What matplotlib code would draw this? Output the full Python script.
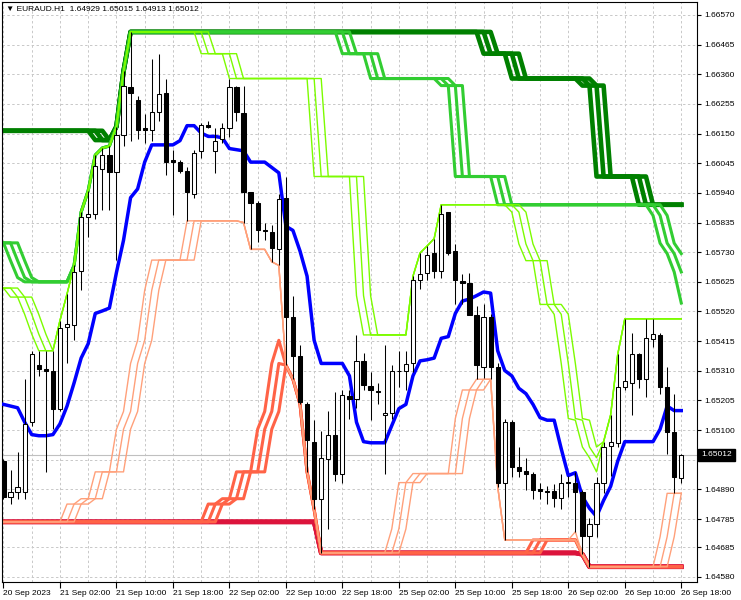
import numpy as np
import matplotlib.pyplot as plt
from matplotlib.ticker import MultipleLocator

plt.rcParams['font.family'] = ['Liberation Sans', 'DejaVu Sans']

symbol = "EURAUD.H1"

# H1 candles, first bar = 20 Sep 2023 18:00
opens = [1.64990, 1.64864, 1.64882, 1.64882, 1.65128, 1.65330, 1.65315, 1.65311, 1.65173, 1.65466,
         1.65471, 1.65664, 1.65853, 1.65866, 1.66024, 1.66074, 1.66014, 1.66144, 1.66314, 1.66270,
         1.66169, 1.66162, 1.66225, 1.66295, 1.66055, 1.66051, 1.66017, 1.65935, 1.66087, 1.66181,
         1.66089, 1.66131, 1.66169, 1.66314, 1.66223, 1.65942, 1.65904, 1.65809, 1.65803, 1.65740,
         1.65923, 1.65500, 1.65362, 1.65194, 1.65059, 1.64857, 1.64996, 1.65084, 1.64946, 1.65219,
         1.65210, 1.65343, 1.65257, 1.65238, 1.65154, 1.65160, 1.65311, 1.65311, 1.65336, 1.65633,
         1.65658, 1.65727, 1.65664, 1.65872, 1.65734, 1.65629, 1.65620, 1.65507, 1.65324, 1.65500,
         1.65324, 1.64914, 1.65128, 1.64971, 1.64954, 1.64946, 1.64891, 1.64886, 1.64886, 1.64861,
         1.64916, 1.64914, 1.64882, 1.64725, 1.64769, 1.64914, 1.65043, 1.65053, 1.65251, 1.65267,
         1.65368, 1.65280, 1.65421, 1.65437, 1.65254, 1.65093, 1.64929]
highs = [1.64996, 1.64958, 1.65021, 1.65280, 1.65381, 1.65381, 1.65381, 1.65381, 1.65488, 1.65582,
         1.65683, 1.65872, 1.65948, 1.66074, 1.66099, 1.66106, 1.66175, 1.66370, 1.66510, 1.66282,
         1.66219, 1.66415, 1.66433, 1.66345, 1.66093, 1.66055, 1.66030, 1.66093, 1.66188, 1.66194,
         1.66169, 1.66188, 1.66345, 1.66320, 1.66320, 1.65942, 1.65910, 1.65835, 1.65828, 1.65935,
         1.65998, 1.65576, 1.65400, 1.65198, 1.65135, 1.65097, 1.65166, 1.65236, 1.65242, 1.65242,
         1.65437, 1.65374, 1.65305, 1.65267, 1.65400, 1.65330, 1.65381, 1.65381, 1.65645, 1.65727,
         1.65752, 1.65778, 1.65898, 1.65872, 1.65759, 1.65652, 1.65658, 1.65538, 1.65545, 1.65510,
         1.65336, 1.65141, 1.65135, 1.65040, 1.65002, 1.64952, 1.64914, 1.64901, 1.64908, 1.64946,
         1.64938, 1.64952, 1.64889, 1.64788, 1.64933, 1.65059, 1.65154, 1.65368, 1.65494, 1.65444,
         1.65374, 1.65494, 1.65494, 1.65444, 1.65324, 1.65229, 1.65015]
lows = [1.64857, 1.64838, 1.64857, 1.64857, 1.65116, 1.65292, 1.64952, 1.65103, 1.65166, 1.65336,
        1.65418, 1.65595, 1.65784, 1.65847, 1.65879, 1.65879, 1.65702, 1.66106, 1.66125, 1.66131,
        1.66118, 1.66125, 1.66194, 1.66005, 1.65860, 1.66011, 1.65841, 1.65923, 1.66062, 1.66169,
        1.66011, 1.66118, 1.66137, 1.66194, 1.65835, 1.65740, 1.65765, 1.65772, 1.65696, 1.65683,
        1.65330, 1.65280, 1.65192, 1.64952, 1.64819, 1.64665, 1.64750, 1.64920, 1.64914, 1.65141,
        1.65179, 1.65242, 1.65135, 1.65192, 1.64946, 1.65141, 1.65254, 1.65242, 1.65305, 1.65601,
        1.65633, 1.65639, 1.65639, 1.65721, 1.65545, 1.65545, 1.65507, 1.65280, 1.65286, 1.65280,
        1.64900, 1.64711, 1.64933, 1.64933, 1.64889, 1.64857, 1.64857, 1.64838, 1.64826, 1.64819,
        1.64864, 1.64740, 1.64660, 1.64616, 1.64722, 1.64876, 1.64938, 1.65040, 1.65242, 1.65154,
        1.65248, 1.65217, 1.65393, 1.65229, 1.65015, 1.64876, 1.64913]
closes = [1.64864, 1.64882, 1.64898, 1.65122, 1.65368, 1.65318, 1.65310, 1.65173, 1.65462, 1.65475,
          1.65661, 1.65853, 1.65866, 1.66036, 1.66074, 1.66014, 1.66144, 1.66320, 1.66295, 1.66162,
          1.66162, 1.66228, 1.66289, 1.66049, 1.66051, 1.66017, 1.65942, 1.66080, 1.66181, 1.66175,
          1.66125, 1.66169, 1.66314, 1.66225, 1.65942, 1.65904, 1.65809, 1.65806, 1.65746, 1.65917,
          1.65500, 1.65362, 1.65198, 1.65065, 1.64857, 1.65002, 1.65084, 1.64946, 1.65223, 1.65210,
          1.65343, 1.65261, 1.65242, 1.65236, 1.65160, 1.65311, 1.65308, 1.65333, 1.65633, 1.65652,
          1.65721, 1.65664, 1.65866, 1.65727, 1.65633, 1.65620, 1.65507, 1.65330, 1.65500, 1.65324,
          1.64914, 1.65128, 1.64971, 1.64954, 1.64946, 1.64889, 1.64886, 1.64882, 1.64861, 1.64914,
          1.64911, 1.64882, 1.64725, 1.64769, 1.64914, 1.65040, 1.65059, 1.65254, 1.65274, 1.65368,
          1.65280, 1.65425, 1.65441, 1.65254, 1.65093, 1.64933, 1.65012]

# blue average line
blue_line = [1.65191, 1.65185, 1.65179, 1.65128, 1.65084, 1.65080, 1.65080, 1.65084, 1.65122, 1.65185,
             1.65267, 1.65355, 1.65406, 1.65513, 1.65522, 1.65532, 1.65658, 1.65772, 1.65923, 1.65954,
             1.66049, 1.66110, 1.66110, 1.66110, 1.66110, 1.66125, 1.66178, 1.66178, 1.66152, 1.66140,
             1.66140, 1.66135, 1.66097, 1.66093, 1.66089, 1.66049, 1.66049, 1.66049, 1.66030, 1.66011,
             1.65822, 1.65807, 1.65734, 1.65645, 1.65418, 1.65336, 1.65336, 1.65336, 1.65336, 1.65292,
             1.65128, 1.65059, 1.65055, 1.65055, 1.65055, 1.65116, 1.65176, 1.65191, 1.65292, 1.65345,
             1.65349, 1.65355, 1.65425, 1.65431, 1.65513, 1.65557, 1.65564, 1.65576, 1.65589, 1.65585,
             1.65381, 1.65311, 1.65292, 1.65248, 1.65229, 1.65191, 1.65144, 1.65135, 1.65135, 1.65034,
             1.64939, 1.64949, 1.64864, 1.64823, 1.64794, 1.64851, 1.64901, 1.64990, 1.65059, 1.65059,
             1.65059, 1.65059, 1.65059, 1.65103, 1.65185, 1.65169, 1.65169]

# channel levels as (first bar, level) steps; bands start 3 bars before the first candle
upper_slow = [(-3, 1.66160), (13, 1.66127), (16, 1.66175), (17, 1.66370), (18, 1.66510), (68, 1.66433),
              (72, 1.66345), (82, 1.66320), (84, 1.65998), (90, 1.65898)]
upper_mid = [(-3, 1.65763), (1, 1.65700), (2, 1.65640), (3, 1.65625), (10, 1.65683), (11, 1.65872),
             (12, 1.65948), (13, 1.66074), (14, 1.66099), (15, 1.66106), (16, 1.66175), (17, 1.66370),
             (18, 1.66510), (48, 1.66433), (52, 1.66345), (62, 1.66320), (64, 1.65998), (70, 1.65898),
             (92, 1.65860), (93, 1.65762), (94, 1.65725), (95, 1.65660), (96, 1.65550)]
upper_fast = [(-3, 1.65603), (1, 1.65571), (3, 1.65510), (4, 1.65440), (5, 1.65381), (8, 1.65488),
              (9, 1.65582), (10, 1.65683), (11, 1.65872), (12, 1.65948), (13, 1.66074), (14, 1.66099),
              (15, 1.66106), (16, 1.66175), (17, 1.66370), (18, 1.66510), (28, 1.66433), (32, 1.66345),
              (44, 1.65998), (50, 1.65576), (51, 1.65437), (58, 1.65645), (59, 1.65727), (60, 1.65752),
              (61, 1.65778), (62, 1.65898), (72, 1.65872), (73, 1.65759), (74, 1.65700), (76, 1.65545),
              (78, 1.65510), (79, 1.65336), (80, 1.65141), (81, 1.65135), (82, 1.65040), (83, 1.65002),
              (84, 1.64952), (85, 1.65059), (86, 1.65154), (87, 1.65368), (88, 1.65494)]
lower_slow = [(-3, 1.64775), (45, 1.64665), (82, 1.64660), (83, 1.64616)]
lower_mid = [(-3, 1.64775), (29, 1.64838), (31, 1.64857), (33, 1.64952), (36, 1.65103), (37, 1.65166),
             (38, 1.65336), (39, 1.65418), (40, 1.65330), (41, 1.65280), (42, 1.65192), (43, 1.64952),
             (44, 1.64819), (45, 1.64665), (75, 1.64711), (82, 1.64660), (83, 1.64616)]
lower_fast = [(-3, 1.64775), (9, 1.64838), (11, 1.64857), (13, 1.64952), (16, 1.65103), (17, 1.65166),
              (18, 1.65336), (19, 1.65418), (20, 1.65595), (21, 1.65702), (26, 1.65841), (34, 1.65835),
              (35, 1.65740), (38, 1.65696), (39, 1.65683), (40, 1.65330), (41, 1.65280), (42, 1.65192),
              (43, 1.64952), (44, 1.64819), (45, 1.64665), (55, 1.64750), (56, 1.64914), (58, 1.64946),
              (64, 1.65141), (65, 1.65242), (67, 1.65280), (70, 1.64900), (71, 1.64711), (81, 1.64740),
              (82, 1.64660), (83, 1.64616), (93, 1.64722), (94, 1.64876)]

price_labels = ["1.66570", "1.66465", "1.66360", "1.66255", "1.66150", "1.66045", "1.65940",
                "1.65835", "1.65730", "1.65625", "1.65520", "1.65415", "1.65310", "1.65205",
                "1.65100", "1.64995", "1.64890", "1.64785", "1.64685", "1.64580"]
time_labels = ["20 Sep 2023", "21 Sep 02:00", "21 Sep 10:00", "21 Sep 18:00", "22 Sep 02:00",
               "22 Sep 10:00", "22 Sep 18:00", "25 Sep 02:00", "25 Sep 10:00", "25 Sep 18:00",
               "26 Sep 02:00", "26 Sep 10:00", "26 Sep 18:00"]

n = len(closes)
x = np.arange(n)
band_x = np.arange(-3, n)


def expand(steps):
    starts = np.array([s for s, _ in steps])
    levels = np.array([v for _, v in steps])
    return levels[np.searchsorted(starts, band_x, side='right') - 1]


fig = plt.figure(figsize=(7.41, 6.0), dpi=100)
ax = fig.add_axes([2 / 741, 18 / 600, 695 / 741, 580 / 600])
ax.set_xlim(-0.21, 98.23)
ax.set_ylim(1.64562, 1.66616)

# grid
ax.set_axisbelow(True)
ax.set_xticks(np.arange(0, n, 8))
ax.set_xticklabels(time_labels)
ax.xaxis.set_minor_locator(MultipleLocator(4))
ax.grid(True, which='both', axis='x', color='#C8C8C8', lw=0.7, ls=(0, (2.5, 2.5)))
ax.yaxis.tick_right()
ax.set_yticks([float(p) for p in price_labels])
ax.set_yticklabels(price_labels)
ax.grid(True, which='major', axis='y', color='#C8C8C8', lw=0.7, ls=(0, (2.5, 2.5)))
ax.tick_params(axis='x', which='major', length=4, width=0.8, pad=1.5, labelsize=6)
ax.tick_params(axis='x', which='minor', length=0)
ax.tick_params(axis='y', length=3, width=0.8, pad=2.5, labelsize=6)
for lbl in ax.get_xticklabels():
    lbl.set_horizontalalignment('left')
for sp in ax.spines.values():
    sp.set_linewidth(0.8)

# bid line
ax.axhline(closes[-1], color='#C0C0C0', lw=0.8, zorder=0.8)

# channels: three periods each, longer periods lag the drops by one and two bars
bands = [(upper_slow, np.maximum, '#008000', 3.3), (upper_mid, np.maximum, '#32CD32', 2.2),
         (upper_fast, np.maximum, '#7CFC00', 1.0), (lower_slow, np.minimum, '#DC143C', 3.3),
         (lower_mid, np.minimum, '#FF6347', 2.2), (lower_fast, np.minimum, '#FFA07A', 1.0)]
for steps, combine, col, lw in bands:
    base = expand(steps)
    for k in (2, 1, 0):
        if k == 0:
            ax.plot(band_x, base, color=col, lw=lw, zorder=2)
        else:
            ax.plot(band_x[k:], combine(base[k:], base[:-k]), color=col, lw=lw, zorder=2)

ax.plot(x, blue_line, color='#0000FF', lw=2.5, zorder=3)

# candles
o = np.array(opens)
c = np.array(closes)
ax.vlines(x, lows, highs, color='black', lw=0.75, zorder=5)
ax.bar(x, np.abs(c - o), bottom=np.minimum(o, c), width=0.6,
       color=np.where(c >= o, 'white', 'black'), edgecolor='black', lw=0.75, zorder=6)

# current price box
ax.text(1.006, closes[-1], f"{closes[-1]:.5f}", transform=ax.get_yaxis_transform(),
        color='white', fontsize=6, va='center', ha='left', zorder=10, clip_on=False,
        bbox=dict(boxstyle='square,pad=0.35', fc='black', ec='black'))

fig.text(6 / 741, 1 - 9 / 600,
         f"\u25bc {symbol}  {opens[-1]:.5f} {highs[-1]:.5f} {lows[-1]:.5f} {closes[-1]:.5f}",
         fontsize=6.0, va='center', ha='left')

fig.savefig('out.png', dpi=100)
